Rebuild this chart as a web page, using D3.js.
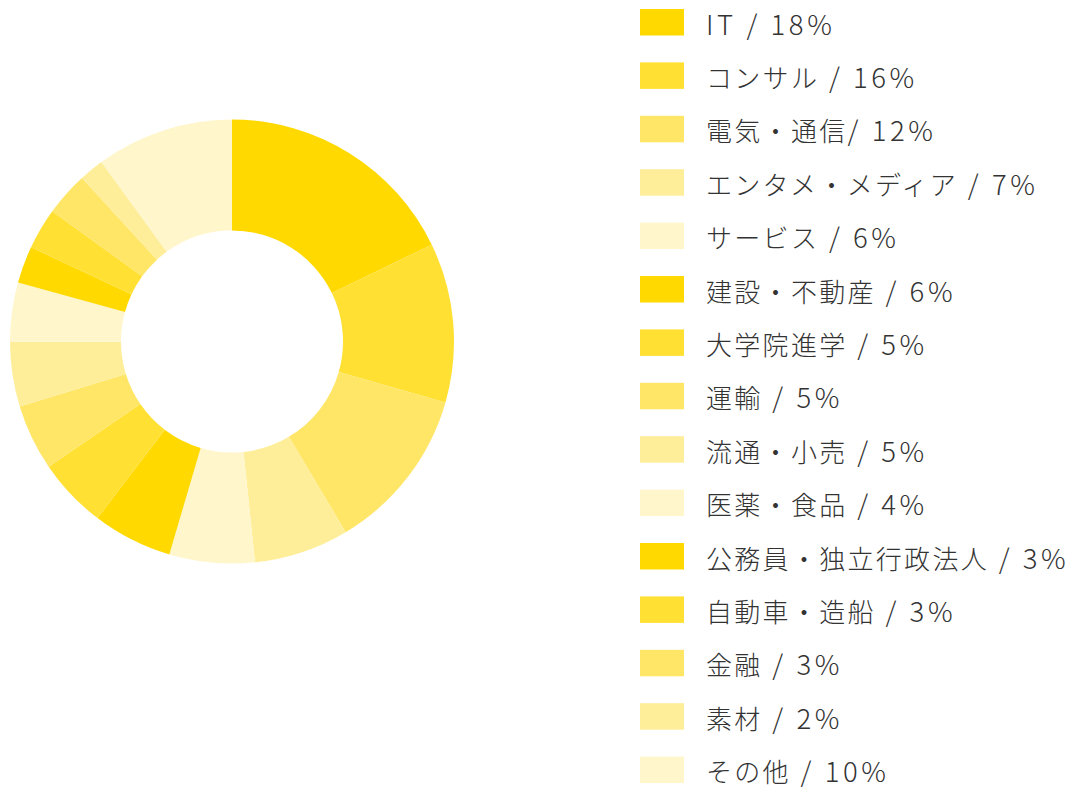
<!DOCTYPE html>
<html><head><meta charset="utf-8">
<script src="https://cdn.jsdelivr.net/npm/d3@7"></script>
<style>html,body{margin:0;padding:0;background:#fff;}</style>
</head><body>
<svg id="chart" width="1080" height="792"></svg>
<script>
// Category names as shown in the legend
const categories = ["IT","コンサル","電気・通信","エンタメ・メディア","サービス","建設・不動産","大学院進学","運輸","流通・小売","医薬・食品","公務員・独立行政法人","自動車・造船","金融","素材","その他"];
// Legend label text (as printed)
const legendLabels = ["IT / 18%","コンサル / 16%","電気・通信/ 12%","エンタメ・メディア / 7%","サービス / 6%","建設・不動産 / 6%","大学院進学 / 5%","運輸 / 5%","流通・小売 / 5%","医薬・食品 / 4%","公務員・独立行政法人 / 3%","自動車・造船 / 3%","金融 / 3%","素材 / 2%","その他 / 10%"];
// Slice sizes as drawn in the donut (%)
const values = [17.8,11.6,12.0,6.9,6.2,5.8,5.1,4.8,4.7,4.3,2.7,3.0,3.2,1.8,10.0];
const palette = ["#FFD900","#FFE033","#FFE666","#FFEE99","#FFF6CC"];

const svg = d3.select("#chart");
const data = categories.map((c,i)=>({name:c,label:legendLabels[i],value:values[i]}));
const color = d3.scaleOrdinal().domain(categories).range(palette);

const pie = d3.pie().value(d=>d.value).sort(null);
const arc = d3.arc().innerRadius(111).outerRadius(222);
const g = svg.append("g").attr("transform","translate(232,341.5)");
g.selectAll("path").data(pie(data)).join("path")
  .attr("d",arc).attr("fill",d=>color(d.data.name));

const y = d3.scaleBand().domain(categories).range([9, 9+53.4*15]).paddingInner(0);
const lg = svg.append("g");
const rows = lg.selectAll("g").data(data).join("g")
  .attr("transform",d=>`translate(640,${y(d.name)})`);
rows.append("rect").attr("width",44).attr("height",26.5).attr("fill",d=>color(d.name));
const txt = rows.append("text").attr("x",66).attr("y",13.5)
  .attr("dominant-baseline","central")
  .style("font-family","'Noto Sans CJK JP','Noto Sans',sans-serif")
  .style("font-size","26px").style("font-weight","300")
  .attr("fill","#333");
txt.selectAll("tspan").data(d=>d.label.match(/[\x00-\x7F]+|[^\x00-\x7F]+/g)).join("tspan")
  .style("font-size",s=>/^[\x00-\x7F]/.test(s)?"27.5px":"26px")
  .style("letter-spacing",s=>/^[\x00-\x7F]/.test(s)?"3.6px":"2.3px")
  .text(s=>s);
</script>
</body></html>
